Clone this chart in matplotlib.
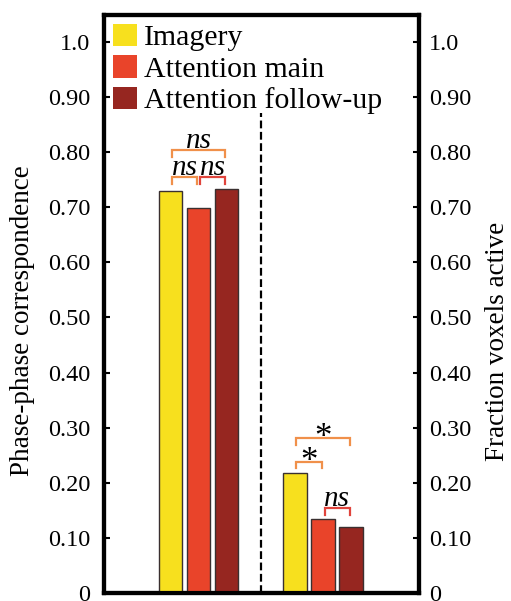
import matplotlib
matplotlib.use("Agg")
import matplotlib.pyplot as plt
from matplotlib.patches import Patch
import numpy as np

plt.rcParams['font.family'] = ['Liberation Serif', 'DejaVu Serif']

# data
series = ['Imagery', 'Attention main', 'Attention follow-up']
colors = ['#F7E01E', '#E9442A', '#962620']
phase_corr = [0.730, 0.698, 0.733]      # left panel (phase-phase correspondence)
frac_active = [0.217, 0.134, 0.119]     # right panel (fraction voxels active)
tick_vals = [0, 0.1, 0.2, 0.3, 0.4, 0.5, 0.6, 0.7, 0.8, 0.9, 1.0]
tick_labels = ['0', '0.10', '0.20', '0.30', '0.40', '0.50', '0.60', '0.70', '0.80', '0.90', '1.0']

# significance comparisons: (group, bar_a, bar_b, height, label, color)
comparisons = [
    (0, 0, 1, 0.755, 'ns', '#F0904A'),
    (0, 1, 2, 0.755, 'ns', '#E0443C'),
    (0, 0, 2, 0.804, 'ns', '#F0904A'),
    (1, 0, 1, 0.238, '*', '#F0904A'),
    (1, 0, 2, 0.281, '*', '#F0904A'),
    (1, 1, 2, 0.154, 'ns', '#E0443C'),
]

fig = plt.figure(figsize=(5.11, 6.01), dpi=100)
ax = fig.add_axes([104 / 511, 8 / 601, 315 / 511, 578 / 601])

centers = [1.0, 2.0]
step = 0.225
width = 0.19
offsets = np.array([-step, 0, step])

for k, vals in enumerate([phase_corr, frac_active]):
    ax.bar(centers[k] + offsets, vals, width=width, color=colors,
           edgecolor='#3a3030', linewidth=1.0, zorder=3)

# dashed divider
ax.plot([1.5, 1.5], [0, 0.871], color='black', lw=1.6,
        linestyle=(0, (3.5, 1.6)), zorder=2)

# significance brackets
leg = 0.012
inset = 0.012
for g, a, b, h, lab, col in comparisons:
    x1 = centers[g] + offsets[a] + inset
    x2 = centers[g] + offsets[b] - inset
    ax.plot([x1, x1, x2, x2], [h - leg, h, h, h - leg], color=col,
            lw=1.6, solid_joinstyle='miter', zorder=4)
    xm = (x1 + x2) / 2
    if lab == '*':
        ax.text(xm, h - 0.016, lab, ha='center', va='baseline', fontsize=25)
    else:
        ax.text(xm, h + 0.003, lab, ha='center', va='baseline', fontsize=21,
                style='italic')

ax.set_xlim(0.241, 2.771)
ax.set_ylim(0, 1.049)
ax.set_xticks([])
ax.set_yticks(tick_vals)
ax.set_yticklabels(tick_labels)
ax.tick_params(axis='y', direction='in', length=4, width=1.5,
               labelsize=17.5, pad=10)
for sp in ax.spines.values():
    sp.set_linewidth(3)

ax.set_ylabel('Phase-phase correspondence', fontsize=19.5)
ax.yaxis.set_label_coords(-0.219, 0.472)

ax2 = ax.twinx()
ax2.set_ylim(ax.get_ylim())
ax2.set_yticks(tick_vals)
ax2.set_yticklabels(tick_labels)
ax2.tick_params(axis='y', direction='in', length=4, width=1.5,
                labelsize=17.5, pad=7)
for sp in ax2.spines.values():
    sp.set_linewidth(3)
ax2.set_ylabel('Fraction voxels active', fontsize=19.5)
ax2.yaxis.set_label_coords(1.21, 0.436)

handles = [Patch(facecolor=c, edgecolor='none') for c in colors]
ax.legend(handles, series, loc='upper left', bbox_to_anchor=(0.028, 0.985),
          frameon=False, fontsize=21.5, handlelength=0.82, handleheight=0.78,
          handletextpad=0.22, labelspacing=0.13, borderpad=0, borderaxespad=0)

fig.savefig('out.png', dpi=100)
